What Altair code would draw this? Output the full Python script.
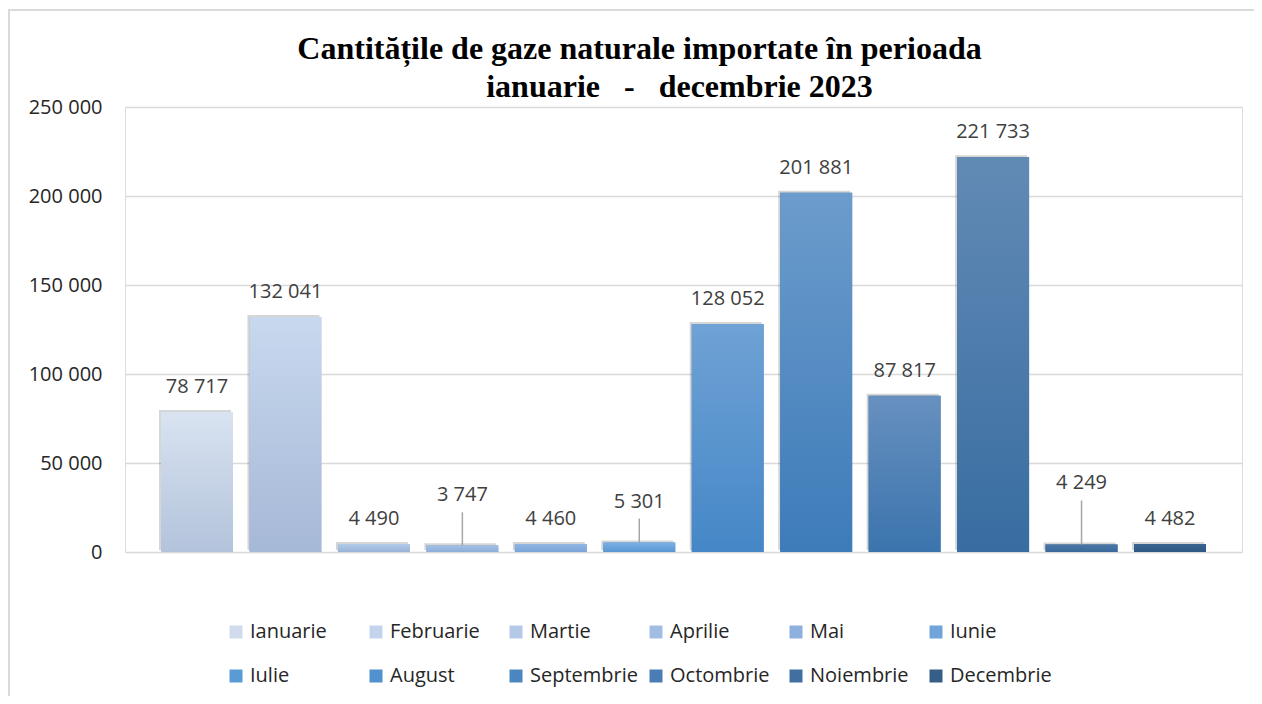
import altair as alt
import pandas as pd

# ---- data ----
months = ["Ianuarie", "Februarie", "Martie", "Aprilie", "Mai", "Iunie",
          "Iulie", "August", "Septembrie", "Octombrie", "Noiembrie", "Decembrie"]
values = [78717, 132041, 4490, 3747, 4460, 5301,
          128052, 201881, 87817, 221733, 4249, 4482]

# ---- styles ----
legend_colors = ["#d0dcee", "#c3d4ec", "#b4c8e7", "#a2bde3", "#8cb1df", "#6fa5db",
                 "#5b9bd5", "#5191d0", "#4a86c0", "#4a7db3", "#416fa0", "#375d89"]
top_colors = ["#d9e3f1", "#c8d8ee", "#b3cbea", "#a4c0e6", "#90b5e3", "#7cb0e4",
              "#6fa2d5", "#6c9ccc", "#6790bf", "#628ab5", "#4a77a6", "#3a6592"]
bottom_colors = ["#b3c3db", "#a5b8d6", "#98b2d6", "#8caed9", "#7aa5d6", "#5a97d4",
                 "#4587c7", "#3d7bb9", "#3b74ad", "#386da1", "#3a6a9c", "#2e5783"]
label_lift_px = [0, 0, 0, 25, 0, 16, 0, 0, 0, 0, 36, 0]

Y_MAX = 250000
PLOT_W, PLOT_H = 1117, 445
PX = Y_MAX / PLOT_H  # data units per pixel

df = pd.DataFrame({"luna": months, "v": values, "lift": label_lift_px})

FONT = "Open Sans"

xenc = alt.X("luna:N", sort=months,
             scale=alt.Scale(domain=months, paddingInner=0.186, paddingOuter=0.407),
             axis=None)
yscale = alt.Scale(domain=[0, Y_MAX], nice=False)

border = alt.Chart(pd.DataFrame({"a": [0]})).mark_rect(
    filled=False, stroke="#d9d9d9", strokeWidth=2
).encode(x=alt.value(-116), x2=alt.value(1300), y=alt.value(-97), y2=alt.value(800))

base = alt.Chart(df)

legend_bars = base.mark_bar().encode(
    x=xenc,
    y=alt.Y("v:Q", scale=yscale, title=None,
            axis=alt.Axis(values=[0, 50000, 100000, 150000, 200000, 250000],
                          labelExpr="replace(format(datum.value, ','), ',', ' ')",
                          domain=False, ticks=False, labelPadding=23,
                          labelFont=FONT, labelFontSize=20, labelColor="#262626",
                          gridColor="#d9d9d9", gridWidth=1.5)),
    color=alt.Color("luna:N", sort=months,
                    scale=alt.Scale(domain=months, range=legend_colors),
                    legend=alt.Legend(title=None, orient="none", legendX=101, legendY=515,
                                      direction="horizontal", columns=6, gridAlign="all",
                                      columnPadding=8, rowPadding=24,
                                      symbolType="square", symbolSize=169,
                                      symbolStrokeWidth=0, labelOffset=4,
                                      labelFont=FONT, labelFontSize=20,
                                      labelColor="#262626", labelLimit=200, padding=0)),
)

shadow = base.mark_bar(color="#000000", opacity=0.16, xOffset=-2, yOffset=-2).encode(
    x=xenc, y=alt.Y("v:Q", scale=yscale))

grad_layers = []
for i, m in enumerate(months):
    g = alt.Gradient(gradient="linear", x1=0, y1=0, x2=0, y2=1,
                     stops=[alt.GradientStop(color=top_colors[i], offset=0),
                            alt.GradientStop(color=bottom_colors[i], offset=1)])
    grad_layers.append(
        base.transform_filter(alt.datum.luna == m).mark_bar(color=g).encode(
            x=xenc, y=alt.Y("v:Q", scale=yscale))
    )

leaders = base.transform_filter("datum.lift > 0").transform_calculate(
    ytop=f"datum.v + (datum.lift + 8) * {PX}"
).mark_rule(color="#a6a6a6", strokeWidth=1.5).encode(
    x=xenc, y=alt.Y("v:Q", scale=yscale), y2="ytop:Q")

labels = base.transform_calculate(
    ylab=f"datum.v + datum.lift * {PX}",
    txt="replace(format(datum.v, ','), ',', ' ')"
).mark_text(font=FONT, fontSize=20, color="#404040", baseline="middle", dy=-25).encode(
    x=xenc, y=alt.Y("ylab:Q", scale=yscale), text="txt:N")

title_line2 = "\u200b" + "\u00a0" * 10 + "ianuarie\u00a0\u00a0\u00a0-\u00a0\u00a0\u00a0decembrie 2023"

chart = alt.layer(border, legend_bars, shadow, *grad_layers, leaders, labels).properties(
    width=PLOT_W, height=PLOT_H,
    padding={"left": 117, "top": 99, "right": 12, "bottom": 144},
    autosize=alt.AutoSizeParams(type="none"),
    title=alt.TitleParams(
        text=["Cantitățile de gaze naturale importate în perioada", title_line2],
        font="Liberation Serif", fontSize=32, fontWeight="bold", color="#000000",
        lineHeight=38, anchor="middle", frame="group", dx=-44, baseline="bottom",
        offset=6, dy=133),
).configure_view(stroke=None).configure(background="white")

chart.save("out.html", embed_options={"renderer": "svg", "actions": False})
